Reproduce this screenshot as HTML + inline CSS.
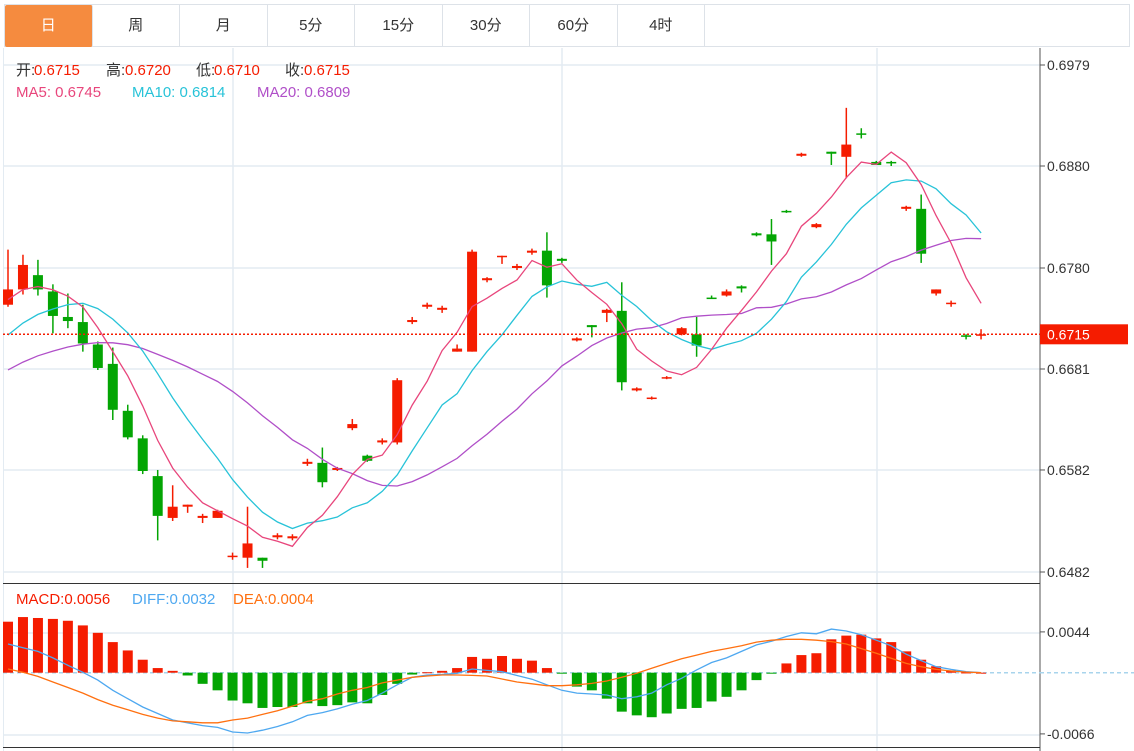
<!DOCTYPE html>
<html><head><meta charset="utf-8">
<style>
body{margin:0;background:#fff;font-family:"Liberation Sans","Noto Sans CJK SC",sans-serif;}
#wrap{position:relative;width:1134px;height:751px;overflow:hidden;}
.tabs{position:absolute;left:4px;top:4px;height:43px;width:1126px;border:1px solid #dde2e8;border-bottom:1px solid #dde2e8;box-sizing:border-box;display:flex;}
.tab{width:87.5px;height:42px;line-height:42px;text-align:center;font-size:15px;color:#333;border-right:1px solid #dde2e8;box-sizing:border-box;}
.tab.on{background:#f58b3f;color:#fff;border-radius:2px;}
svg{position:absolute;left:0;top:0;}
</style></head><body>
<div id="wrap">
<div class="tabs">
<div class="tab on">日</div>
<div class="tab">周</div>
<div class="tab">月</div>
<div class="tab">5分</div>
<div class="tab">15分</div>
<div class="tab">30分</div>
<div class="tab">60分</div>
<div class="tab">4时</div>
</div>
<svg id="svg" width="1134" height="751" style="top:0"></svg>
</div>
<script>
const openP=[0.6744,0.6759,0.6773,0.6757,0.6732,0.6727,0.6705,0.6686,0.6640,0.6613,0.6576,0.6535,0.6546,0.6535,0.6535,0.6497,0.6496,0.6496,0.6516,0.6515,0.6588,0.6589,0.6582,0.6623,0.6596,0.6609,0.6609,0.6727,0.6742,0.6739,0.6698,0.6698,0.6768,0.6791,0.6780,0.6795,0.6797,0.6789,0.6709,0.6724,0.6736,0.6738,0.6660,0.6652,0.6672,0.6715,0.6715,0.6751,0.6753,0.6762,0.6814,0.6813,0.6836,0.6890,0.6820,0.6894,0.6889,0.6912,0.6884,0.6884,0.6838,0.6838,0.6755,0.6745,0.6714,0.6715];
const highP=[0.6798,0.6793,0.6788,0.6764,0.6755,0.6744,0.6708,0.6702,0.6646,0.6616,0.6582,0.6567,0.6548,0.6539,0.6543,0.6501,0.6546,0.6496,0.6520,0.6519,0.6593,0.6604,0.6585,0.6632,0.6597,0.6613,0.6672,0.6732,0.6746,0.6743,0.6705,0.6798,0.6771,0.6792,0.6784,0.6799,0.6815,0.6790,0.6712,0.6724,0.6740,0.6766,0.6663,0.6654,0.6674,0.6722,0.6732,0.6753,0.6759,0.6763,0.6815,0.6828,0.6837,0.6893,0.6824,0.6894,0.6937,0.6917,0.6885,0.6885,0.6841,0.6852,0.6759,0.6748,0.6715,0.6720];
const lowP=[0.6742,0.6754,0.6753,0.6716,0.6721,0.6698,0.6680,0.6631,0.6612,0.6578,0.6513,0.6532,0.6540,0.6530,0.6535,0.6494,0.6486,0.6486,0.6514,0.6513,0.6586,0.6565,0.6581,0.6621,0.6590,0.6607,0.6607,0.6725,0.6740,0.6736,0.6698,0.6698,0.6766,0.6784,0.6778,0.6793,0.6751,0.6785,0.6708,0.6712,0.6727,0.6660,0.6659,0.6651,0.6671,0.6714,0.6693,0.6750,0.6752,0.6756,0.6811,0.6783,0.6834,0.6889,0.6819,0.6881,0.6868,0.6907,0.6881,0.6880,0.6836,0.6785,0.6753,0.6742,0.6710,0.6710];
const closeP=[0.6759,0.6783,0.6759,0.6733,0.6728,0.6706,0.6682,0.6641,0.6614,0.6581,0.6537,0.6546,0.6548,0.6537,0.6542,0.6498,0.6510,0.6493,0.6518,0.6517,0.6590,0.6570,0.6584,0.6627,0.6591,0.6611,0.6670,0.6729,0.6744,0.6741,0.6701,0.6796,0.6770,0.6792,0.6782,0.6797,0.6763,0.6787,0.6711,0.6722,0.6739,0.6668,0.6662,0.6653,0.6673,0.6721,0.6704,0.6750,0.6757,0.6760,0.6812,0.6806,0.6835,0.6892,0.6823,0.6892,0.6901,0.6911,0.6881,0.6883,0.6840,0.6794,0.6759,0.6746,0.6713,0.6715];
const priorClose=[0.6631,0.6636,0.6641,0.6646,0.6651,0.6651,0.6646,0.6651,0.6656,0.6651,0.6665,0.6675,0.6680,0.6685,0.6693,0.6734,0.6744,0.6749,0.6759];
const macdHist=[55,60,59,58,56,51,43,33,24,14,5,2,-3,-12,-19,-30,-33,-38,-37,-37,-33,-36,-35,-32,-33,-24,-12,-2,0.5,2,5,17,15,18,15,13,5,-0.3,-15,-19,-28,-42,-46,-48,-44,-39,-38,-31,-26,-19,-8,-0.5,10,19,21,36,40,41,37,33,23,14,7,2.5,0.3,0];
const diffV=[31,27,23,16,8,0.4,-8,-19,-28,-37,-44,-51,-54,-57,-59,-64,-65,-62,-58,-53,-46,-43,-39,-34,-30,-22,-13,-5,-2.5,-1.8,-0.7,4,2.5,1.1,-3,-7,-13,-19,-22,-23,-24,-28,-26,-22,-13,-6,3,11,16,23,30,34,39,43,42,47,45,41,35,29,20,13,6.5,3.6,1.1,0];
const deaV=[4,0.4,-4,-10,-16,-22,-29,-35,-40,-45,-49,-52,-53,-54,-54,-51,-49,-45,-41,-36,-31,-28,-23,-19,-16,-11,-8,-5,-3.6,-2.5,-2.5,-2.9,-3.6,-6.8,-10,-12,-14,-14,-13,-11.5,-9,-5,-0.7,4.7,10,15,19,23,26,29,33,35,36,36,35,33.5,31,26,21,15.5,10,6.5,3.6,1.8,0.7,0];
const priceTicks=[0.6979,0.6880,0.6780,0.6681,0.6582,0.6482];
const macdTicks=[0.0044,-0.0066];
const lastPrice=0.6715;

const NS="http://www.w3.org/2000/svg";
const svg=document.getElementById('svg');
function el(tag,attrs,parent){const e=document.createElementNS(NS,tag);for(const k in attrs)e.setAttribute(k,attrs[k]);(parent||svg).appendChild(e);return e;}
const RED="#f51c00",GREEN="#03a503";
const X0=8,DX=14.97,PL=3,PR=1040;
const xOf=i=>X0+DX*i;
const yP=p=>65+(0.6979-p)*10201;
const yM=v=>672.7-v*9273;
const M=1e-4;

[65,166,268,369,470,572].forEach(y=>{const g=el('line',{x1:PL,x2:PR,y1:y,y2:y,stroke:"#e3ebf2","stroke-width":1.5});});
[633,735].forEach(y=>{const g=el('line',{x1:PL,x2:PR,y1:y,y2:y,stroke:"#e3ebf2","stroke-width":1.5});});
[233,562,877].forEach(x=>{const g=el('line',{x1:x,x2:x,y1:48,y2:751,stroke:"#e3ebf2","stroke-width":1.5});});
el('line',{x1:3.5,x2:3.5,y1:48,y2:751,stroke:"#e3ebf2","stroke-width":1});
el('line',{x1:PR,x2:PR,y1:48,y2:751,stroke:"#555","stroke-width":1});
el('line',{x1:PL,x2:PR,y1:583.5,y2:583.5,stroke:"#333","stroke-width":1});
el('line',{x1:PL,x2:PR,y1:747.5,y2:747.5,stroke:"#333","stroke-width":1});
el('line',{x1:PL,x2:PR,y1:yM(0),y2:yM(0),stroke:"#a8d4ec","stroke-width":1.5,"stroke-dasharray":"4,3"});
el('line',{x1:PR,x2:PR+100,y1:yM(0),y2:yM(0),stroke:"#a8d4ec","stroke-width":1.5,"stroke-dasharray":"4,3"});

priceTicks.forEach(p=>{const y=yP(p);el('line',{x1:PR,x2:PR+5,y1:y,y2:y,stroke:"#555"});
const t=el('text',{x:1047,y:y+5,"font-size":14,fill:"#333"});t.textContent=p.toFixed(4);
});
macdTicks.forEach(v=>{const y=yM(v);el('line',{x1:PR,x2:PR+5,y1:y,y2:y,stroke:"#555"});
const t=el('text',{x:1047,y:y+5,"font-size":14,fill:"#333"});t.textContent=v.toFixed(4);
});

macdHist.forEach((v,i)=>{const y0=yM(0),y1=yM(v*M);const r=el('rect',{x:xOf(i)-5,y:Math.min(y0,y1),width:10,height:Math.max(1,Math.abs(y1-y0)),fill:v>=0?RED:GREEN});
});
function poly(vals,yf,color,name){const pts=vals.map((v,i)=>xOf(i).toFixed(1)+','+yf(v).toFixed(1)).join(' ');
const p=el('polyline',{points:pts,fill:'none',stroke:color,"stroke-width":1.3});}
poly(diffV.map(v=>v*M),yM,"#4ea8f0",'diff-line');
poly(deaV.map(v=>v*M),yM,"#ff7010",'dea-line');

const all=priorClose.concat(closeP);
function ma(n){return closeP.map((c,i)=>{const k=i+priorClose.length;let s=0,c2=0;for(let j=k-n+1;j<=k;j++){if(j>=0){s+=all[j];c2++;}}return s/c2;});}
closeP.forEach((c,i)=>{const o=openP[i],up=c>=o,col=up?RED:GREEN,x=xOf(i);
const w=el('line',{x1:x,x2:x,y1:yP(highP[i]),y2:yP(lowP[i]),stroke:col,"stroke-width":1.5});

const yt=yP(Math.max(o,c)),yb=yP(Math.min(o,c));
const b=el('rect',{x:x-5,y:yt,width:10,height:Math.max(1.5,yb-yt),fill:col});
});
poly(ma(20),yP,"#b04fc8",'ma20-line');
poly(ma(10),yP,"#28c3d8",'ma10-line');
poly(ma(5),yP,"#e8467c",'ma5-line');

const ly=yP(lastPrice);
el('line',{x1:PL,x2:PR,y1:ly,y2:ly,stroke:RED,"stroke-width":1.5,"stroke-dasharray":"2,2"});
const lb=el('rect',{x:PR,y:ly-10,width:88,height:20,fill:RED});
const lt=el('text',{x:1047,y:ly+5,"font-size":14,fill:"#fff"});lt.textContent=lastPrice.toFixed(4);

function legend(y,items,name){items.forEach(([x,s,c])=>{const t=el('text',{x:x,y:y,"font-size":15,fill:c});t.textContent=s;
});}
legend(75,[[16,"开:","#333"],[34,"0.6715",RED],[106,"高:","#333"],[125,"0.6720",RED],[196,"低:","#333"],[214,"0.6710",RED],[285,"收:","#333"],[304,"0.6715",RED]],'ohlc-legend');
legend(97,[[16,"MA5: 0.6745","#e8467c"],[132,"MA10: 0.6814","#28c3d8"],[257,"MA20: 0.6809","#b04fc8"]],'ma-legend');
legend(604,[[16,"MACD:0.0056",RED],[132,"DIFF:0.0032","#4ea8f0"],[233,"DEA:0.0004","#ff7010"]],'macd-legend');
</script>
</body></html>
